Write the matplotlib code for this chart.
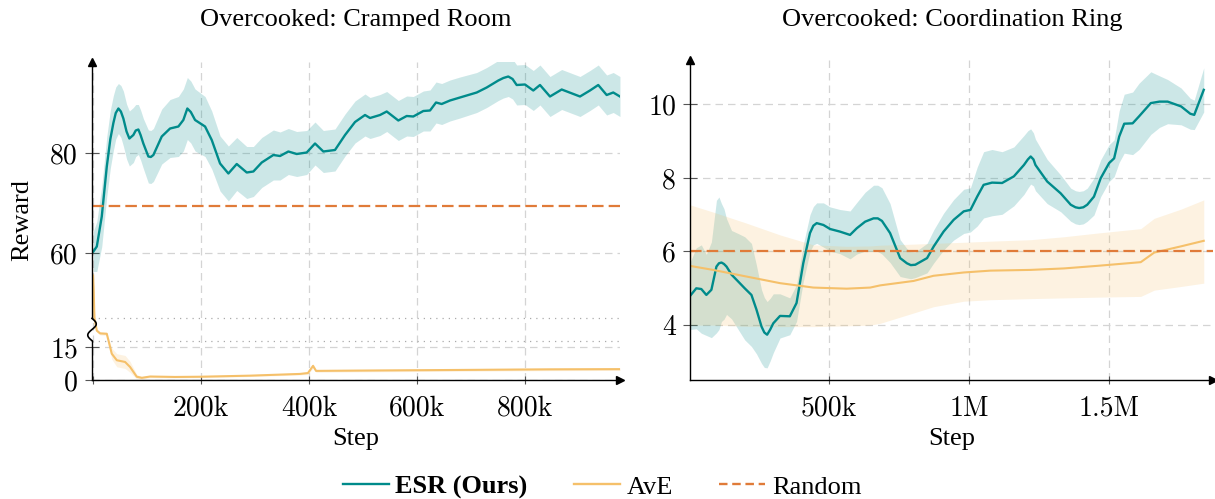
import numpy as np
import matplotlib
matplotlib.use("Agg")
import matplotlib.pyplot as plt
from matplotlib.lines import Line2D

plt.rcParams['font.family'] = ['Liberation Serif', 'DejaVu Serif']

# ---------------- data: Cramped Room (steps in thousands) ----------------
cr_esr_step = [0.6, 6.9, 16.1, 25.4, 32, 37.6, 42, 46.9, 51.5, 56.1, 62, 67.2, 74.6,
               79, 83.9, 88, 93.1, 102.4, 107, 111.7, 127.2, 142.6, 158, 167.2, 174.6,
               181, 188.9, 207.4, 219.8, 235.2, 250.6, 266.1, 284.6, 296.9, 312.4,
               333.9, 346.3, 361.7, 377.2, 395.7, 411.1, 426.5, 448.1, 466.7, 485.2,
               503.7, 513, 531.5, 543.9, 565.4, 580.9, 593.1, 611.7, 624.1, 635.2,
               645.7, 661.1, 679.6, 710.6, 729.1, 750.6, 760, 769.1, 777, 784.6, 800,
               815.4, 827.8, 846.3, 868, 901.9, 920.4, 935.7, 951.3, 963.5, 975.9]
cr_esr_mean = [60.3, 61.3, 67.3, 77.3, 82.8, 86.0, 88.0, 88.9, 88.3, 86.9, 84.3, 82.9, 83.6,
               84.5, 84.7, 83.6, 81.9, 79.3, 79.2, 79.6, 83.3, 84.9, 85.3, 86.6, 88.9,
               88.2, 86.6, 85.3, 82.6, 77.9, 75.9, 77.8, 76.1, 76.3, 78.1,
               79.6, 79.4, 80.3, 79.8, 80.1, 81.9, 80.3, 80.6, 83.6, 86.2,
               87.6, 87.0, 87.6, 88.3, 86.5, 87.4, 87.3, 88.4, 88.5, 90.1,
               89.8, 90.5, 91.1, 92.1, 93.1, 94.5, 95.0, 95.3, 94.8, 93.6, 93.7,
               92.5, 93.6, 91.3, 92.7, 91.3, 92.5, 93.6, 91.6, 92.1, 91.3]
cr_esr_err = [4.0, 5.0, 6.0, 6.0, 5.8, 5.5, 5.2, 5.0, 5.2, 5.5, 5.5, 5.5, 5.5,
              5.2, 5.0, 5.0, 5.0, 5.3, 5.3, 5.3, 5.5, 5.8, 6.0, 6.2, 6.2,
              6.2, 6.2, 6.0, 5.8, 5.5, 5.5, 5.3, 5.2, 5.0, 5.0,
              5.0, 4.8, 4.6, 4.5, 4.4, 4.3, 4.2, 4.2, 4.2, 4.2,
              4.2, 4.1, 4.1, 4.0, 4.0, 4.0, 4.0, 4.0, 4.1, 4.1,
              4.1, 4.1, 4.1, 4.0, 4.0, 4.0, 4.0, 4.0, 4.0, 4.0, 4.0,
              4.0, 4.0, 4.0, 4.0, 4.0, 4.0, 4.0, 4.0, 4.0, 4.0]

cr_ave_step = [0, 1.3, 2.4, 6.9, 13, 25.4, 34.6, 43.9, 59.3, 68.5, 80.9, 90.2,
               105.6, 151.9, 198, 290.7, 383.3, 398, 407.4, 413, 476, 661, 846, 976]
cr_ave_mean = [55.5, 52.0, 47.0, 31.0, 27.5, 27.0, 12.1, 9.1, 8.3, 6.0, 1.5, 1.0,
               1.6, 1.4, 1.5, 2.0, 2.8, 3.2, 6.5, 4.2, 4.3, 4.6, 4.9, 5.0]
cr_ave_err = [2.0, 2.0, 2.0, 2.0, 2.0, 2.0, 2.5, 3.0, 3.0, 2.5, 1.0, 0.6,
              0.5, 0.4, 0.4, 0.4, 0.5, 0.6, 1.0, 0.6, 0.6, 0.6, 0.6, 0.6]
cr_random = 69.4

# ---------------- data: Coordination Ring (steps in thousands) ----------------
ring_esr_step = [2.4, 26, 44, 62, 80, 98, 107, 116, 125, 134, 152, 175, 199, 223, 241,
                 259, 269, 279, 290, 301, 325, 360, 384, 408, 432, 444, 456, 480, 504,
                 539, 575, 599, 629, 659, 674, 689, 718, 754, 778, 792, 808, 850, 874,
                 909, 945, 981, 1005, 1029, 1052, 1082, 1118, 1160, 1196, 1210, 1220,
                 1230, 1237, 1279, 1327, 1363, 1380, 1393, 1408, 1422, 1446, 1470,
                 1500, 1518, 1536, 1554, 1584, 1607, 1649, 1680, 1709, 1757, 1790,
                 1804, 1838]
ring_esr_mean = [4.78, 5.0, 4.98, 4.82, 4.96, 5.59, 5.68, 5.70, 5.66, 5.59, 5.37, 5.19,
                 5.0, 4.82, 4.42, 3.96, 3.80, 3.74, 3.88, 4.05, 4.25, 4.24, 4.60, 5.68,
                 6.50, 6.70, 6.77, 6.72, 6.61, 6.54, 6.45, 6.63, 6.81, 6.90, 6.90, 6.83,
                 6.50, 5.82, 5.68, 5.63, 5.64, 5.82, 6.14, 6.54, 6.86, 7.09, 7.13, 7.49,
                 7.81, 7.87, 7.86, 8.04, 8.35, 8.50, 8.58, 8.50, 8.35, 7.90, 7.58, 7.27,
                 7.20, 7.18, 7.20, 7.27, 7.49, 7.99, 8.40, 8.53, 9.12, 9.47, 9.48, 9.67,
                 10.03, 10.07, 10.07, 9.94, 9.74, 9.71, 10.39]
ring_esr_err = [0.9, 1.1, 1.2, 1.1, 1.3, 1.8, 1.8, 1.6, 1.5, 1.3, 1.2, 1.3, 1.4, 1.4,
                1.2, 1.0, 0.95, 0.9, 0.85, 0.8, 0.6, 0.5, 0.5, 0.5, 0.5, 0.52, 0.55,
                0.6, 0.6, 0.6, 0.65, 0.7, 0.8, 0.9, 0.9, 0.9, 0.8, 0.5, 0.4, 0.37,
                0.35, 0.4, 0.45, 0.5, 0.55, 0.6, 0.6, 0.8, 0.9, 0.9, 0.85, 0.8, 0.8,
                0.78, 0.75, 0.72, 0.7, 0.6, 0.5, 0.45, 0.45, 0.45, 0.45, 0.45, 0.5,
                0.5, 0.5, 0.5, 0.7, 0.8, 0.85, 0.9, 0.85, 0.7, 0.6, 0.5, 0.42, 0.4,
                0.6]

ring_ave_step = [2.4, 86, 205, 325, 444, 563, 647, 683, 802, 873, 981, 1076, 1220,
                 1339, 1458, 1613, 1661, 1757, 1838]
ring_ave_mean = [5.61, 5.50, 5.32, 5.14, 5.02, 4.99, 5.02, 5.08, 5.20, 5.34, 5.43, 5.48,
                 5.50, 5.54, 5.61, 5.71, 5.97, 6.14, 6.29]
ring_ave_low = [4.0, 4.0, 3.97, 3.96, 3.96, 3.98, 4.0, 4.05, 4.33, 4.5, 4.65, 4.69,
                4.72, 4.74, 4.76, 4.78, 4.95, 5.05, 5.14]
ring_ave_high = [7.27, 7.07, 6.77, 6.45, 6.18, 6.14, 6.15, 6.17, 6.2, 6.22, 6.25, 6.28,
                 6.32, 6.4, 6.5, 6.62, 6.9, 7.15, 7.4]
ring_random = 6.0

# ---------------- style ----------------
ESR_C = '#008b8b'
AVE_C = '#f5c06a'
RAND_C = '#e07b39'
GRID_C = '#d4d4d4'
TICK_FONT = 'cmr10'
TXT = 19
RAND_DASH = (5.2, 2.3)

# broken y scale for the left panel (values -> pseudo pixels)
BRK_V = [-100.0, 0.0, 18.0, 47.0, 300.0]
BRK_P = [-217.0, 0.0, 39.1, 62.0, 62.0 + 253 * 5.0]


def fwd(v):
    return np.interp(v, BRK_V, BRK_P)


def inv(p):
    return np.interp(p, BRK_P, BRK_V)


def style_axis(ax):
    for s in ['top', 'right']:
        ax.spines[s].set_visible(False)
    ax.spines['bottom'].set_linewidth(1.0)
    ax.spines['left'].set_linewidth(1.0)
    ax.tick_params(axis='y', direction='inout', length=10, width=0.8, color='#555555',
                   labelsize=20, pad=5)
    ax.tick_params(axis='x', direction='inout', length=6, width=0.8, color='#555555',
                   labelsize=20, pad=8)
    for lab in ax.get_xticklabels() + ax.get_yticklabels():
        lab.set_fontfamily(TICK_FONT)
    ax.grid(True, color=GRID_C, linestyle=(0, (6, 4)), linewidth=0.9)
    ax.set_axisbelow(True)
    # arrow heads
    ax.plot(1, 0, marker='>', color='k', markersize=6, transform=ax.transAxes,
            clip_on=False, zorder=10)
    ax.plot(0, 1, marker='^', color='k', markersize=6, transform=ax.transAxes,
            clip_on=False, zorder=10)


fig = plt.figure(figsize=(12.15, 4.99), dpi=100)
W, H = 1215.0, 499.0
ax1 = fig.add_axes([92 / W, (H - 380) / H, (620 - 92) / W, (380 - 62) / H])
ax2 = fig.add_axes([690 / W, (H - 380) / H, (1213 - 690) / W, (380 - 60) / H])

# ---------- left: Cramped Room ----------
ax1.set_yscale('function', functions=(fwd, inv))
x = np.array(cr_esr_step) * 1000
m = np.array(cr_esr_mean)
e = np.array(cr_esr_err)
ax1.fill_between(x, m - e, m + e, color=ESR_C, alpha=0.2, linewidth=0)
ax1.plot(x, m, color=ESR_C, linewidth=1.7, solid_joinstyle='round')

x = np.array(cr_ave_step) * 1000
m = np.array(cr_ave_mean)
e = np.array(cr_ave_err)
ax1.fill_between(x, m - e, m + e, color=AVE_C, alpha=0.2, linewidth=0)
ax1.plot(x, m, color=AVE_C, linewidth=1.5, solid_joinstyle='round')

ax1.axhline(cr_random, color=RAND_C, linewidth=1.6, dashes=RAND_DASH)
for yb in (18, 47):
    ax1.axhline(yb, color='#aaaaaa', linewidth=0.9, linestyle=(0, (1, 4)))

ax1.set_xlim(-2000, 976000)
ax1.set_ylim(0, 98.2)
ax1.set_xticks([0, 200000, 400000, 600000, 800000])
ax1.set_xticklabels(['', '200k', '400k', '600k', '800k'])
ax1.set_yticks([0, 15, 60, 80])
ax1.set_yticklabels(['0', '15', '60', '80'])
style_axis(ax1)

# break in the left spine
ax1.spines['left'].set_visible(False)
bt = ax1.get_yaxis_transform()
ax1.plot([0, 0], [0, 18.3], color='k', linewidth=1.0, transform=bt, clip_on=False)
ax1.plot([0, 0], [46.5, 98.2], color='k', linewidth=1.0, transform=bt, clip_on=False)
t = np.linspace(0, 1, 60)
sq_y = inv(fwd(18.3) + (fwd(46.5) - fwd(18.3)) * t)
sq_x = -0.008 * np.sin(2 * np.pi * t)
ax1.plot(sq_x, sq_y, color='k', linewidth=1.2, transform=bt, clip_on=False)

# ---------- right: Coordination Ring ----------
x = np.array(ring_esr_step) * 1000
m = np.array(ring_esr_mean)
e = np.array(ring_esr_err)
ax2.fill_between(x, m - e, m + e, color=ESR_C, alpha=0.2, linewidth=0)
ax2.plot(x, m, color=ESR_C, linewidth=1.7, solid_joinstyle='round')

x = np.array(ring_ave_step) * 1000
ax2.fill_between(x, ring_ave_low, ring_ave_high, color=AVE_C, alpha=0.2, linewidth=0)
ax2.plot(x, ring_ave_mean, color=AVE_C, linewidth=1.5, solid_joinstyle='round')

ax2.axhline(ring_random, color=RAND_C, linewidth=1.6, dashes=RAND_DASH)

ax2.set_xlim(3600, 1871000)
ax2.set_ylim(2.51, 11.2)
ax2.set_xticks([500000, 1000000, 1500000])
ax2.set_xticklabels(['500k', '1M', '1.5M'])
ax2.set_yticks([4, 6, 8, 10])
ax2.set_yticklabels(['4', '6', '8', '10'])
style_axis(ax2)

# ---------- titles and axis labels ----------
fig.text(356 / W, 1 - 20 / H, 'Overcooked: Cramped Room', fontsize=TXT,
         ha='center', va='center')
fig.text(952 / W, 1 - 20 / H, 'Overcooked: Coordination Ring', fontsize=TXT,
         ha='center', va='center')
fig.text(356 / W, 1 - 439 / H, 'Step', fontsize=TXT, ha='center', va='center')
fig.text(952 / W, 1 - 439 / H, 'Step', fontsize=TXT, ha='center', va='center')
fig.text(22 / W, 1 - 220 / H, 'Reward', fontsize=TXT, ha='center', va='center',
         rotation=90)

# ---------- legend ----------
handles = [Line2D([], [], color=ESR_C, linewidth=1.7),
           Line2D([], [], color=AVE_C, linewidth=1.7),
           Line2D([], [], color=RAND_C, linewidth=1.7, dashes=(3.6, 2.0))]
leg = fig.legend(handles, ['ESR (Ours)', 'AvE', 'Random'], loc='center',
                 bbox_to_anchor=(602 / W, 1 - 487 / H), ncol=3, frameon=False,
                 fontsize=TXT, handlelength=1.75, columnspacing=1.75,
                 handletextpad=0.25, borderpad=0.1)
leg.get_texts()[0].set_fontweight('bold')

fig.savefig('out.png', dpi=100)
